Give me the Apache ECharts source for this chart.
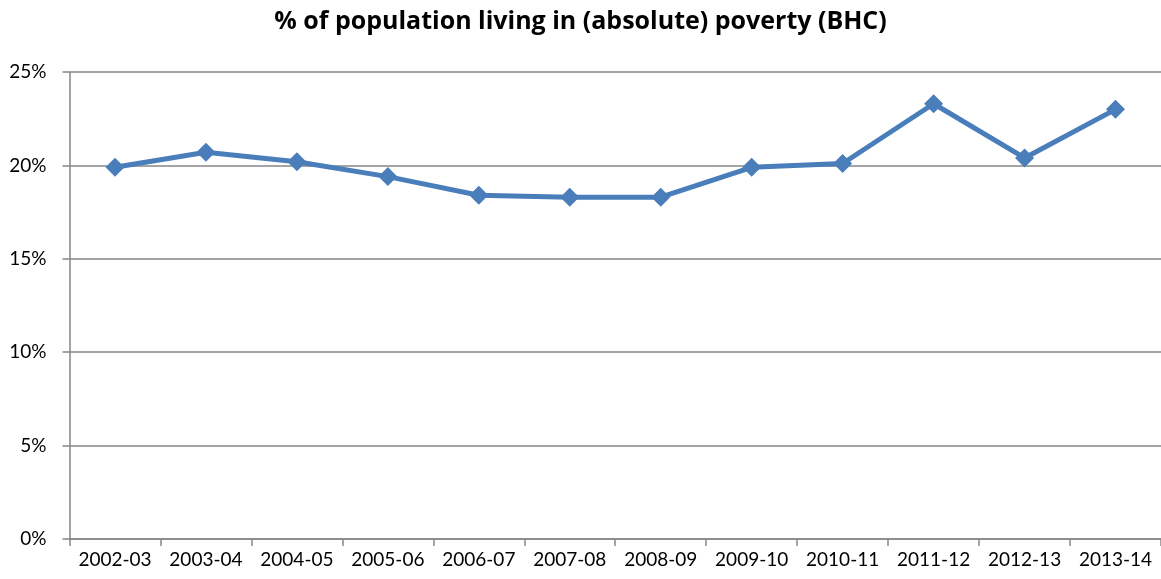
<!DOCTYPE html>
<html><head><meta charset="utf-8">
<script src="https://cdn.jsdelivr.net/npm/echarts@6/dist/echarts.min.js"></script>
<style>html,body{margin:0;padding:0;background:#fff}#c{width:1161px;height:579px}</style>
</head><body><div id="c"></div>
<script>
const categories = ['2002-03','2003-04','2004-05','2005-06','2006-07','2007-08','2008-09','2009-10','2010-11','2011-12','2012-13','2013-14'];
const povertyPct = [19.9, 20.7, 20.2, 19.4, 18.4, 18.3, 18.3, 19.9, 20.1, 23.3, 20.4, 23.0];
const yTicks = [0, 5, 10, 15, 20, 25];
const titleText = '% of population living in (absolute) poverty (BHC)';

const chart = echarts.init(document.getElementById('c'));
chart.setOption({
  animation: false,
  backgroundColor: '#fff',
  title: {
    text: titleText, left: 'center', top: 4,
    textStyle: {fontFamily: 'Open Sans', fontWeight: 'bold', fontSize: 25, color: '#000'}
  },
  grid: {left: 69.5, right: -1, top: 72, bottom: 40},
  xAxis: {
    type: 'category', data: categories, boundaryGap: true,
    axisLine: {lineStyle: {color: '#868686', width: 1.5}},
    axisTick: {show: true, interval: 0, length: 7, lineStyle: {color: '#868686', width: 1.5}},
    axisLabel: {interval: 0, color: '#000', fontFamily: 'Lato', fontSize: 19, margin: 11}
  },
  yAxis: {
    type: 'value', min: yTicks[0], max: yTicks[yTicks.length - 1], interval: 5,
    axisLine: {show: true, lineStyle: {color: '#868686', width: 1.5}},
    axisTick: {show: true, length: 7, lineStyle: {color: '#868686', width: 1.5}},
    splitLine: {lineStyle: {color: '#868686', width: 1.5}},
    axisLabel: {formatter: v => v + '%', color: '#000', fontFamily: 'Lato', fontSize: 19, margin: 23}
  },
  series: [{
    type: 'line', data: povertyPct,
    symbol: 'diamond', symbolSize: 19,
    lineStyle: {color: '#4a7ebb', width: 5},
    itemStyle: {color: '#4a7ebb'}
  }]
});
</script></body></html>
